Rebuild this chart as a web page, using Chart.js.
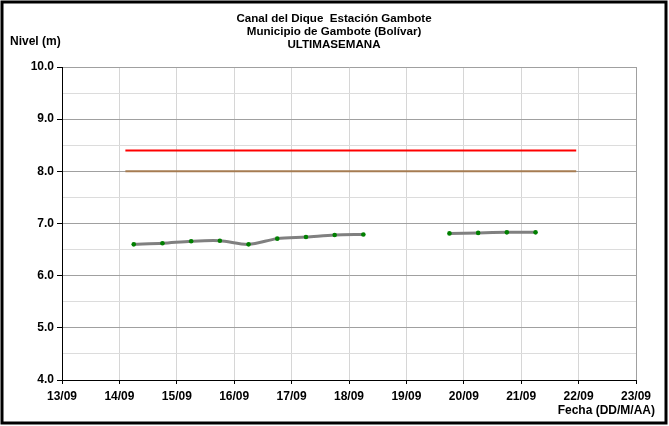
<!DOCTYPE html>
<html>
<head>
<meta charset="utf-8">
<script src="https://cdn.jsdelivr.net/npm/chart.js@4"></script>
<style>
  html, body { margin: 0; padding: 0; background: #fff; }
  #marco { position: relative; width: 669px; height: 426px; }
  canvas { display: block; }
</style>
</head>
<body>
<div id="marco"><canvas id="graficoNivel" width="669" height="426"></canvas></div>
<script>
// DATOS (fecha DD/MM HH:MM, nivel en metros)
var fechasTramo1 = ['14/09 06:00', '14/09 18:00', '15/09 06:00', '15/09 18:00', '16/09 06:00', '16/09 18:00', '17/09 06:00', '17/09 18:00', '18/09 06:00']
var nivelesTramo1 = [6.60, 6.62, 6.66, 6.67, 6.60, 6.71, 6.74, 6.78, 6.79]

var fechasTramo2 = ['19/09 18:00', '20/09 06:00', '20/09 18:00', '21/09 06:00']
var nivelesTramo2 = [6.81, 6.82, 6.83, 6.83]

var fechasCotas = ['14/09 02:30', '21/09 23:00']
var cotaRoja = [8.40, 8.40]
var cotaNaranja = [8.00, 8.00]

var ejeXMin = 13, ejeXMax = 23
var ejeYMin = 4, ejeYMax = 10

var titulo = ['Canal del Dique  Estación Gambote', 'Municipio de Gambote (Bolívar)', 'ULTIMASEMANA']
var tituloEjeY = 'Nivel (m)'
var tituloEjeX = 'Fecha (DD/M/AA)'

// convierte 'DD/MM HH:MM' en dias decimales
function aDias(fecha) {
    var dia = parseInt(fecha.slice(0, 2))
    var hora = parseInt(fecha.slice(6, 8))
    var min = parseInt(fecha.slice(9, 11))
    return dia + (hora + min / 60) / 24
}

function puntos(fechas, valores) {
    var lista = []
    for (let i = 0; i < fechas.length; i++) {
        lista.push({ x: aDias(fechas[i]), y: valores[i] })
    }
    return lista
}

var fuente = "'Liberation Sans', Arial, sans-serif"

var textos = {
    id: 'textos',
    afterDraw: function (chart) {
        var ctx = chart.ctx
        ctx.save()
        ctx.fillStyle = '#000'
        ctx.font = 'bold 11.6px ' + fuente
        ctx.textAlign = 'center'
        ctx.textBaseline = 'middle'
        for (let i = 0; i < titulo.length; i++) {
            ctx.fillText(titulo[i], 334, 19 + i * 13)
        }
        ctx.font = 'bold 12px ' + fuente
        ctx.textAlign = 'left'
        ctx.fillText(tituloEjeY, 10, 42)
        ctx.textAlign = 'right'
        ctx.fillText(tituloEjeX, 655, 411)
        // marco exterior
        ctx.strokeStyle = '#000'
        ctx.lineWidth = 3
        ctx.strokeRect(2, 2, 664, 421)
        ctx.restore()
    }
}

var config = new Chart(document.getElementById('graficoNivel'), {
    type: 'line',
    data: {
        datasets: [{
            data: puntos(fechasCotas, cotaRoja),
            borderColor: '#ff0000',
            borderWidth: 2,
            pointRadius: 0
        }, {
            data: puntos(fechasCotas, cotaNaranja),
            borderColor: '#a67c52',
            borderWidth: 2,
            pointRadius: 0
        }, {
            data: puntos(fechasTramo1, nivelesTramo1),
            borderColor: '#808080',
            borderWidth: 3,
            pointBackgroundColor: '#008000',
            pointBorderColor: '#008000',
            pointBorderWidth: 0,
            pointRadius: 2.3,
            tension: 0.3
        }, {
            data: puntos(fechasTramo2, nivelesTramo2),
            borderColor: '#808080',
            borderWidth: 3,
            pointBackgroundColor: '#008000',
            pointBorderColor: '#008000',
            pointBorderWidth: 0,
            pointRadius: 2.3,
            tension: 0.3
        }]
    },
    options: {
        responsive: false,
        animation: false,
        layout: { padding: { left: 0, right: 33, top: 67, bottom: 0 } },
        plugins: {
            legend: { display: false },
            tooltip: { enabled: false }
        },
        scales: {
            x: {
                type: 'linear',
                min: ejeXMin,
                max: ejeXMax,
                afterFit: function (s) { s.height = 46 },
                ticks: {
                    stepSize: 1,
                    color: '#000',
                    font: { family: fuente, size: 12, weight: 'bold' },
                    padding: 5,
                    maxRotation: 0,
                    callback: function (v) { return String(v).padStart(2, '0') + '/09' }
                },
                grid: {
                    color: function (c) { return c.index == 10 ? '#a0a0a0' : '#d6d6d6' },
                    tickColor: '#000',
                    tickLength: 4
                },
                border: { color: '#000', width: 1 }
            },
            y: {
                min: ejeYMin,
                max: ejeYMax,
                afterFit: function (s) { s.width = 62 },
                ticks: {
                    stepSize: 0.5,
                    color: '#000',
                    font: { family: fuente, size: 12, weight: 'bold' },
                    padding: 3,
                    callback: function (v) { return Number.isInteger(v) ? v.toFixed(1) : '' }
                },
                grid: {
                    color: function (c) { return Number.isInteger(c.tick.value) ? '#a0a0a0' : '#dcdcdc' },
                    tickColor: function (c) { return Number.isInteger(c.tick.value) ? '#000' : 'rgba(0,0,0,0)' },
                    tickLength: 5
                },
                border: { color: '#000', width: 1 }
            }
        }
    },
    plugins: [textos]
})
</script>
</body>
</html>
